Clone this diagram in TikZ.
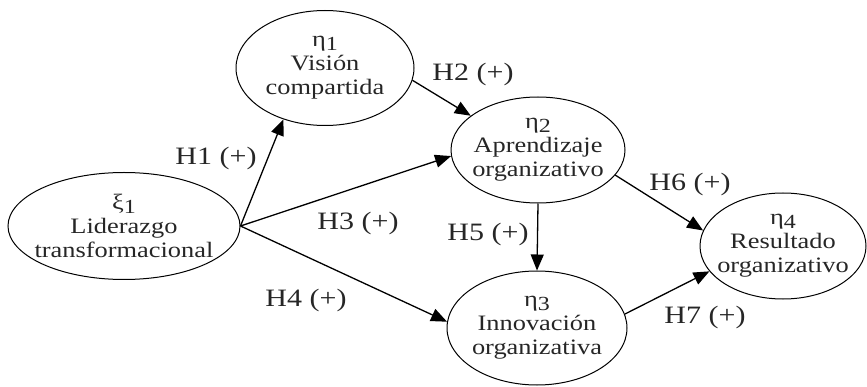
\documentclass[tikz,border=0pt]{standalone}
\usepackage{fontspec}
\setmainfont{Liberation Serif}[FakeStretch=1.2]
\usetikzlibrary{shapes.geometric,arrows.meta}

\newcommand{\lvar}[2]{#1\raisebox{-0.4ex}{\fontsize{20}{20}\selectfont #2}}

\begin{document}
\begin{tikzpicture}[x=1pt, y=-1pt,
  font=\fontsize{22}{24}\selectfont, text=black!85,
  var/.style={draw, ellipse, line width=1pt, inner xsep=-30pt,
              inner ysep=-15pt, align=center, minimum width=#1},
  arr/.style={-{Triangle[length=16pt, width=13pt]}, line width=1.3pt},
  lab/.style={inner sep=0pt, font=\fontsize{25}{25}\selectfont}
]
  \useasboundingbox (0,0) rectangle (867,387);

  \node[var=232pt, minimum height=107pt] (lider) at (124,226)
        {\lvar{ξ}{1}\\Liderazgo\\transformacional};
  \node[var=178pt, minimum height=115pt] (vision) at (325,68)
        {\lvar{η}{1}\\Visión\\compartida};
  \node[var=174pt, minimum height=106pt] (aprend) at (538,150)
        {\lvar{η}{2}\\Aprendizaje\\organizativo};
  \node[var=180pt, minimum height=114pt] (innov) at (537,328)
        {\lvar{η}{3}\\Innovación\\organizativa};
  \node[var=166pt, minimum height=106pt] (result) at (783,246)
        {\lvar{η}{4}\\Resultado\\organizativo};

  \draw[arr] (lider.east) -- (vision.231);
  \draw[arr] (vision.-8)  -- (aprend.153);
  \draw[arr] (lider.east) -- (aprend.184);
  \draw[arr] (lider.east) -- (innov.176);
  \draw[arr] (aprend.south) -- (innov.north);
  \draw[arr] (aprend.-18) -- (result.169);
  \draw[arr] (innov.9)    -- (result.199);

  \node[lab] (h1) at (216,158) {H1 (+)};
  \node[lab] (h2) at (473,74)  {H2 (+)};
  \node[lab] (h3) at (358,223) {H3 (+)};
  \node[lab] (h4) at (306,300) {H4 (+)};
  \node[lab] (h5) at (488,234) {H5 (+)};
  \node[lab] (h6) at (690,184) {H6 (+)};
  \node[lab] (h7) at (705,317) {H7 (+)};
\end{tikzpicture}
\end{document}
